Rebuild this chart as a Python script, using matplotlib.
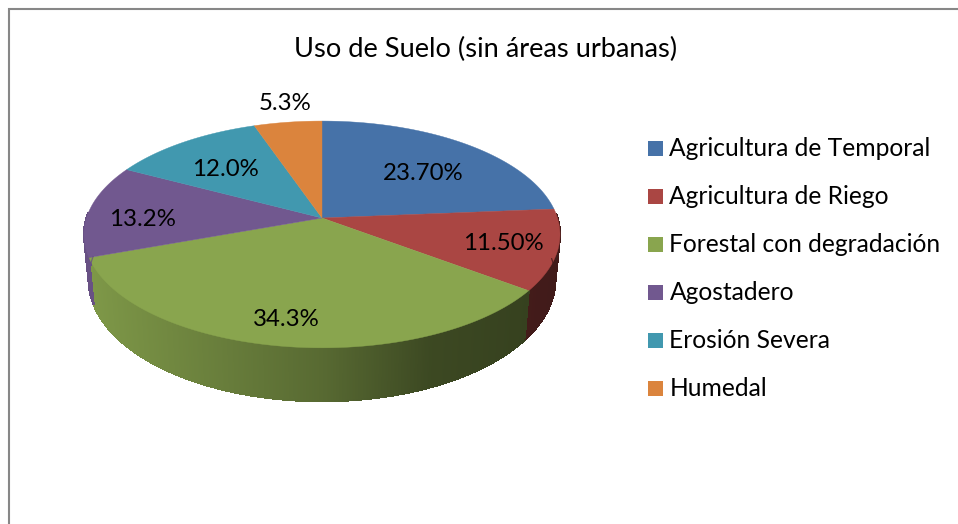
import matplotlib
matplotlib.use('Agg')
import matplotlib.pyplot as plt
import numpy as np

plt.rcParams['font.family'] = ['Lato', 'DejaVu Sans']

categories = ['Agricultura de Temporal', 'Agricultura de Riego', 'Forestal con degradación',
              'Agostadero', 'Erosión Severa', 'Humedal']
values = [23.7, 11.5, 34.3, 13.2, 12.0, 5.3]
value_labels = ['23.70%', '11.50%', '34.3%', '13.2%', '12.0%', '5.3%']
colors = ['#4672A8', '#AA4643', '#89A54E', '#71588F', '#4198AF', '#DB843D']
title = 'Uso de Suelo (sin áreas urbanas)'

# label spots in pixels, the chart was hand placed
label_pos = [(423, 173), (503, 243), (286, 320), (142, 219), (225, 169), (285, 104)]

CX, CY = 322, 218
A, B, K = 235.5, 111, 0.145


def top_xy(theta):
    w = 1 + K * np.cos(theta)
    return CX + A * np.sin(theta) / w, CY - B * np.cos(theta) / w


def bottom_xy(theta):
    x, y = top_xy(theta)
    return CX + (x - CX) * 0.98, 262.3 + (y - CY) * 1.07


def shade(x):
    # side wall gets darker to the right
    return np.interp(x, [88, 322, 430, 560], [0.92, 0.64, 0.44, 0.38])


fig = plt.figure(figsize=(9.58, 5.24), dpi=100)
ax = fig.add_axes([0, 0, 1, 1])
ax.set_xlim(0, 958)
ax.set_ylim(524, 0)
ax.axis('off')

# chart frame, runs off the picture on the right and bottom
ax.plot([9, 9, 958], [524, 9, 9], color='#878787', linewidth=1.5, solid_joinstyle='miter')

edges = np.radians(np.cumsum([0] + values) * 3.6)

# side wall first, in thin strips so the gradient shows
for i, color in enumerate(colors):
    lo, hi = max(edges[i], np.radians(88)), min(edges[i + 1], np.radians(273))
    if hi <= lo:
        continue
    rgb = np.array(matplotlib.colors.to_rgb(color))
    steps = np.linspace(lo, hi, max(int(np.degrees(hi - lo) * 3), 2))
    for t0, t1 in zip(steps[:-1], steps[1:]):
        x0, y0 = top_xy(t0)
        x1, y1 = top_xy(t1)
        x2, y2 = bottom_xy(t1)
        x3, y3 = bottom_xy(t0)
        c = rgb * shade((x0 + x1) / 2)
        ax.fill([x0, x1, x2, x3], [y0, y1, y2, y3], color=c, linewidth=0.8, antialiased=False)
        ax.plot([x3, x2], [y3, y2], color=c, linewidth=0.8, solid_capstyle='butt')

# top face
for i, color in enumerate(colors):
    t = np.linspace(edges[i], edges[i + 1], 120)
    x, y = top_xy(t)
    ax.fill(np.r_[CX, x], np.r_[CY, y], color=color, linewidth=0.3)

for (x, y), s in zip(label_pos, value_labels):
    ax.text(x, y, s, ha='center', va='center', fontsize=17.3, color='black')

ax.text(485.5, 49, title, ha='center', va='center', fontsize=19.6, color='black')

for i, (name, color) in enumerate(zip(categories, colors)):
    y = 148 + i * 48
    ax.fill([648, 663, 663, 648], [y - 7.5, y - 7.5, y + 7.5, y + 7.5], color=color, linewidth=0)
    ax.text(669.5, y + 1, name, ha='left', va='center', fontsize=17.7, color='black')

plt.savefig('out.png', dpi=100, facecolor='white')
plt.close()
